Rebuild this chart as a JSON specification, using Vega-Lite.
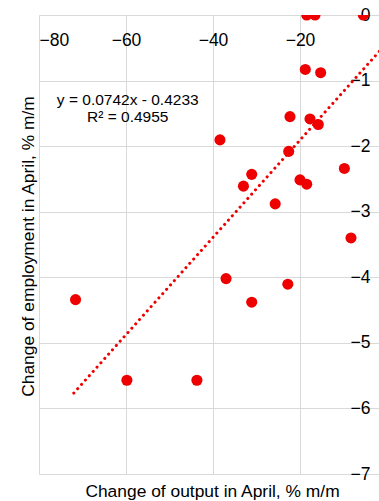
{
  "$schema": "https://vega.github.io/schema/vega-lite/v6.json",
  "width": 340,
  "height": 459,
  "autosize": {"type": "none"},
  "padding": {"left": 39, "top": 15, "right": 0, "bottom": 27},
  "background": "white",
  "config": {
    "view": {"stroke": null},
    "font": "Liberation Sans, Arial, sans-serif",
    "axis": {"gridColor": "#d9d9d9", "gridWidth": 1, "domain": false, "ticks": false, "labelFont": "Liberation Sans, Arial, sans-serif", "titleFont": "Liberation Sans, Arial, sans-serif", "labelFontSize": 17.5, "titleFontSize": 17.4, "labelColor": "#000", "titleColor": "#000", "titleFontWeight": "normal"}
  },
  "datasets": {
    "pts": [
      {"output": -18.46, "employment": 0.0},
      {"output": -16.55, "employment": 0.0},
      {"output": -5.45, "employment": 0.0},
      {"output": -18.78, "employment": -0.83},
      {"output": -15.25, "employment": -0.88},
      {"output": -22.3, "employment": -1.55},
      {"output": -17.7, "employment": -1.585},
      {"output": -15.8, "employment": -1.67},
      {"output": -38.4, "employment": -1.905},
      {"output": -22.6, "employment": -2.08},
      {"output": -9.8, "employment": -2.34},
      {"output": -31.1, "employment": -2.43},
      {"output": -33.0, "employment": -2.61},
      {"output": -20.0, "employment": -2.515},
      {"output": -18.46, "employment": -2.58},
      {"output": -25.7, "employment": -2.88},
      {"output": -8.28, "employment": -3.4},
      {"output": -37.0, "employment": -4.02},
      {"output": -31.1, "employment": -4.38},
      {"output": -22.8, "employment": -4.105},
      {"output": -71.6, "employment": -4.34},
      {"output": -59.8, "employment": -5.57},
      {"output": -43.7, "employment": -5.57}
    ],
    "trend": [
      {"output": -72, "employment": -5.766},
      {"output": 0, "employment": -0.4233}
    ],
    "note": [
      {"output": -59.6, "employment": -1.3, "label": "y = 0.0742x  - 0.4233"},
      {"output": -59.6, "employment": -1.56, "label": "R² = 0.4955"}
    ]
  },
  "layer": [
    {
      "data": {"name": "trend"},
      "mark": {"type": "line", "color": "#ee0000", "strokeWidth": 3, "strokeDash": [0.1, 5.7], "strokeCap": "round", "clip": true},
      "encoding": {
        "x": {"field": "output", "type": "quantitative", "scale": {"domain": [-80, -1.84], "nice": false, "zero": false},
          "axis": {"orient": "top", "values": [-80, -60, -40, -20], "format": "d", "labelPadding": -16, "labelBaseline": "top", "title": "Change of output in April, % m/m", "titleX": 173, "titleY": 481, "titleBaseline": "alphabetic", "titleAlign": "center"}},
        "y": {"field": "employment", "type": "quantitative", "scale": {"domain": [-7, 0], "nice": false, "zero": false},
          "axis": {"orient": "right", "values": [0, -1, -2, -3, -4, -5, -6, -7], "format": "d", "labelAlign": "right", "labelPadding": -9, "labelBaseline": "middle", "title": "Change of employment in April, % m/m", "titleAngle": 270, "titleX": -346, "titleY": 231, "titleBaseline": "alphabetic", "titleAlign": "center"}}
      }
    },
    {
      "data": {"name": "pts"},
      "mark": {"type": "circle", "color": "#ee0000", "opacity": 1, "size": 123, "clip": true},
      "encoding": {
        "x": {"field": "output", "type": "quantitative"},
        "y": {"field": "employment", "type": "quantitative"}
      }
    },
    {
      "data": {"name": "note"},
      "mark": {"type": "text", "fontSize": 15.5, "color": "#000", "align": "center", "baseline": "middle", "font": "Liberation Sans, Arial, sans-serif"},
      "encoding": {
        "x": {"field": "output", "type": "quantitative"},
        "y": {"field": "employment", "type": "quantitative"},
        "text": {"field": "label"}
      }
    }
  ]
}
